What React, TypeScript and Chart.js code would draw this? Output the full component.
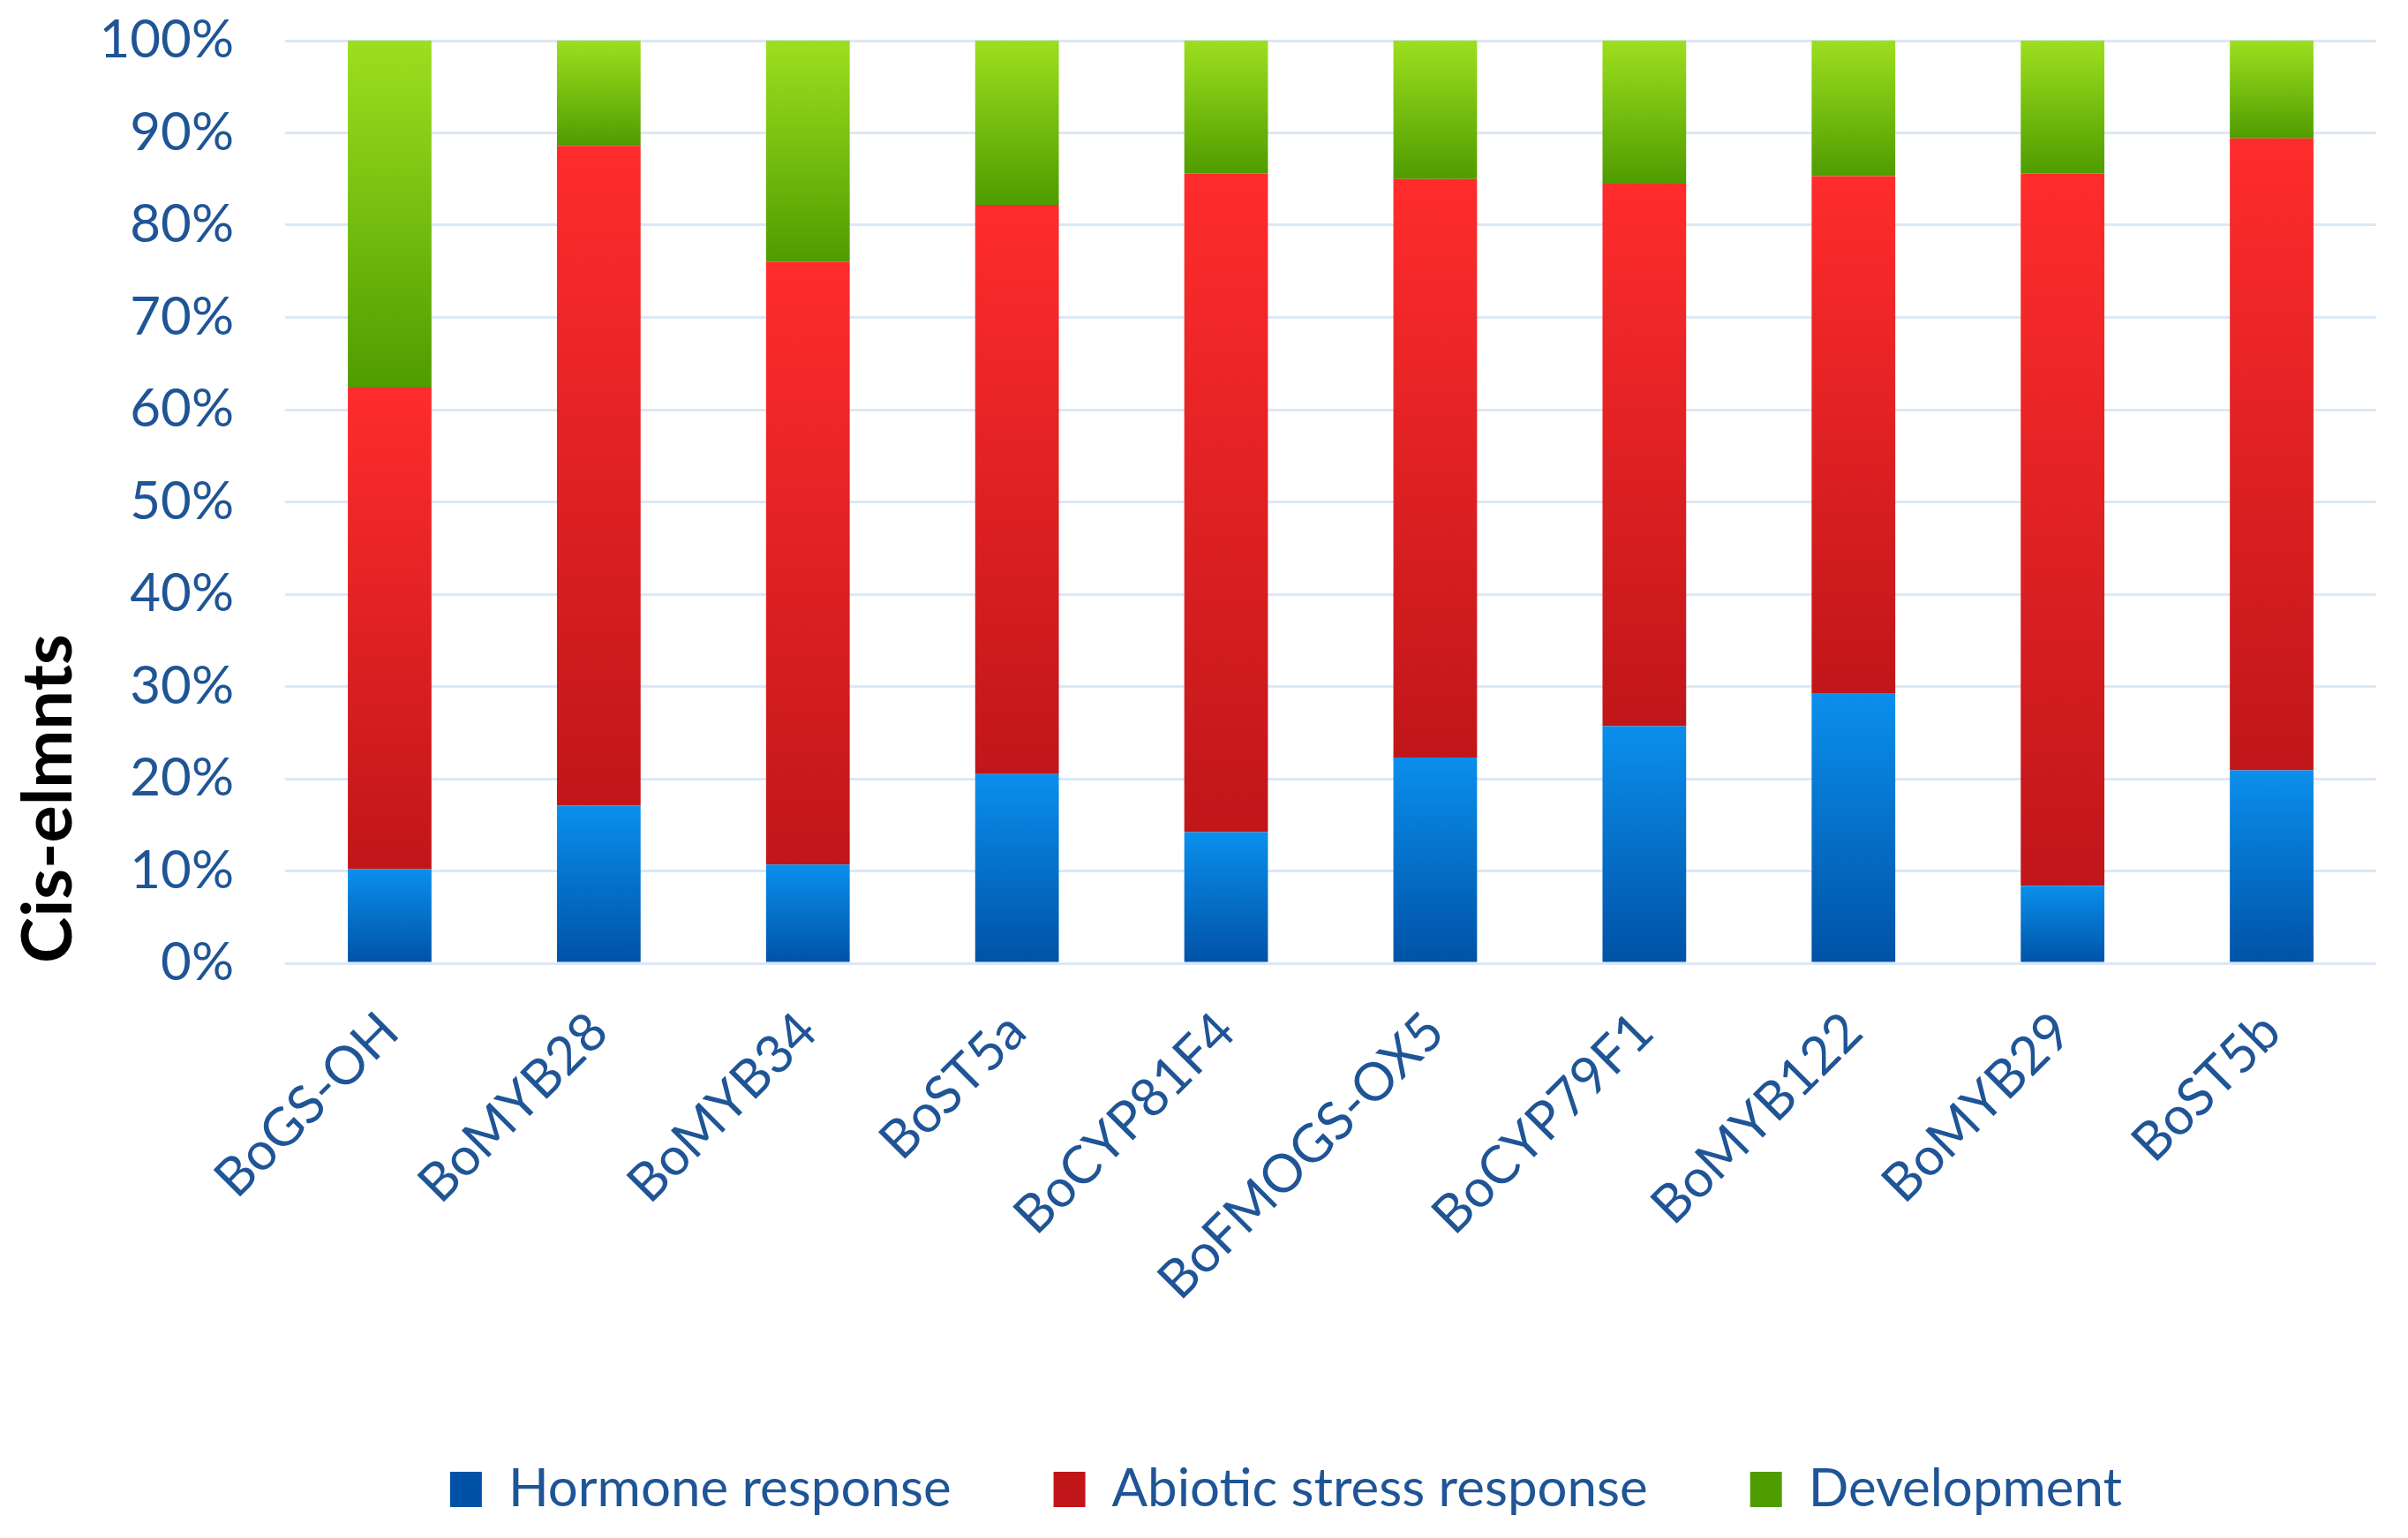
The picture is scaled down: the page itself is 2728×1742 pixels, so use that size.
import React, { useEffect, useRef } from "react";
import { Chart, registerables } from "chart.js";

Chart.register(...registerables);

const categories = [
  "BoGS-OH",
  "BoMYB28",
  "BoMYB34",
  "BoST5a",
  "BoCYP81F4",
  "BoFMOGS-OX5",
  "BoCYP79F1",
  "BoMYB122",
  "BoMYB29",
  "BoST5b",
];

const hormoneResponse = [10.2, 17.1, 10.7, 20.5, 14.2, 22.3, 25.7, 29.2, 8.4, 20.9];
const abioticStressResponse = [52.2, 71.5, 65.3, 61.7, 71.4, 62.7, 58.8, 56.1, 77.2, 68.5];
const development = [37.6, 11.4, 24.0, 17.8, 14.4, 15.0, 15.5, 14.7, 14.4, 10.6];

const seriesNames = ["Hormone response", "Abiotic stress response", "Development"];
const seriesValues = [hormoneResponse, abioticStressResponse, development];

const yTicks = [0, 10, 20, 30, 40, 50, 60, 70, 80, 90, 100];

const W = 2728;
const H = 1742;
const FONT = "Lato, 'Open Sans', 'Noto Sans', sans-serif";
const TEXT_BLUE = "#1f5596";

const gradientStops: [string, string, string][] = [
  ["#0a8fec", "#0052a6", "#0070d0"],
  ["#ff2c2c", "#c0161a", "#e82424"],
  ["#9ddf1f", "#4f9c00", "#76c010"],
];

export default function App() {
  const ref = useRef<HTMLCanvasElement | null>(null);

  useEffect(() => {
    document.body.style.margin = "0";
    const canvas = ref.current;
    if (!canvas) return;

    const makeBg = (dsIndex: number) => (ctx: any) => {
      const [topC, botC, mid] = gradientStops[dsIndex];
      if (ctx.type !== "data" || ctx.dataIndex === undefined) return mid;
      const chart = ctx.chart;
      const ys = chart.scales && chart.scales.y;
      if (!ys) return mid;
      let base = 0;
      for (let k = 0; k < dsIndex; k++) base += seriesValues[k][ctx.dataIndex];
      const top = base + seriesValues[dsIndex][ctx.dataIndex];
      const yTop = ys.getPixelForValue(top);
      const yBot = ys.getPixelForValue(base);
      if (!isFinite(yTop) || !isFinite(yBot) || yTop === yBot) return mid;
      const g = chart.ctx.createLinearGradient(0, yTop, 0, yBot);
      g.addColorStop(0, topC);
      g.addColorStop(1, botC);
      return g;
    };

    const legendShift = {
      id: "legendShift",
      afterLayout(chart: any) {
        const l = chart.legend;
        if (l) {
          l.left += 107;
          l.right += 107;
        }
      },
    };

    const chart = new Chart(canvas, {
      type: "bar",
      data: {
        labels: categories,
        datasets: seriesValues.map((vals, i) => ({
          label: seriesNames[i],
          data: vals,
          backgroundColor: makeBg(i),
          borderWidth: 0,
          barPercentage: 0.4,
          categoryPercentage: 1.0,
        })),
      },
      options: {
        animation: false,
        responsive: false,
        devicePixelRatio: 1,
        layout: { padding: { left: 8, right: 36, top: 46, bottom: 15 } },
        plugins: {
          tooltip: { enabled: false },
          legend: {
            position: "bottom",
            labels: {
              color: TEXT_BLUE,
              font: { family: FONT, size: 60 },
              boxWidth: 36,
              boxHeight: 40,
              padding: 116,
            },
          },
        },
        scales: {
          x: {
            stacked: true,
            grid: { display: false },
            border: { display: false },
            ticks: {
              color: TEXT_BLUE,
              font: { family: FONT, size: 60 },
              maxRotation: 45,
              minRotation: 45,
              autoSkip: false,
              padding: 34,
            },
            afterFit: (scale: any) => {
              scale.height = 450;
            },
          },
          y: {
            stacked: true,
            min: 0,
            max: 100,
            afterBuildTicks: (scale: any) => {
              scale.ticks = yTicks.map((v) => ({ value: v }));
            },
            grid: { color: "#dbe8f6", lineWidth: 3, drawTicks: false },
            border: { display: false },
            ticks: {
              color: TEXT_BLUE,
              font: { family: FONT, size: 60 },
              padding: 58,
              callback: (v: any) => `${v}%`,
            },
            title: {
              display: true,
              text: "Cis-elmnts",
              align: "start",
              color: "#000000",
              font: { family: FONT, size: 79, weight: "bold" },
              padding: { top: 0, bottom: 0 },
            },
            afterFit: (scale: any) => {
              scale.width = 315;
              scale.paddingTop = 30;
              scale.paddingBottom = 30;
            },
          },
        },
      },
      plugins: [legendShift],
    });

    return () => {
      chart.destroy();
    };
  }, []);

  return (
    <div style={{ width: W, height: H }}>
      <canvas ref={ref} width={W} height={H} style={{ display: "block", width: W, height: H }} />
    </div>
  );
}
